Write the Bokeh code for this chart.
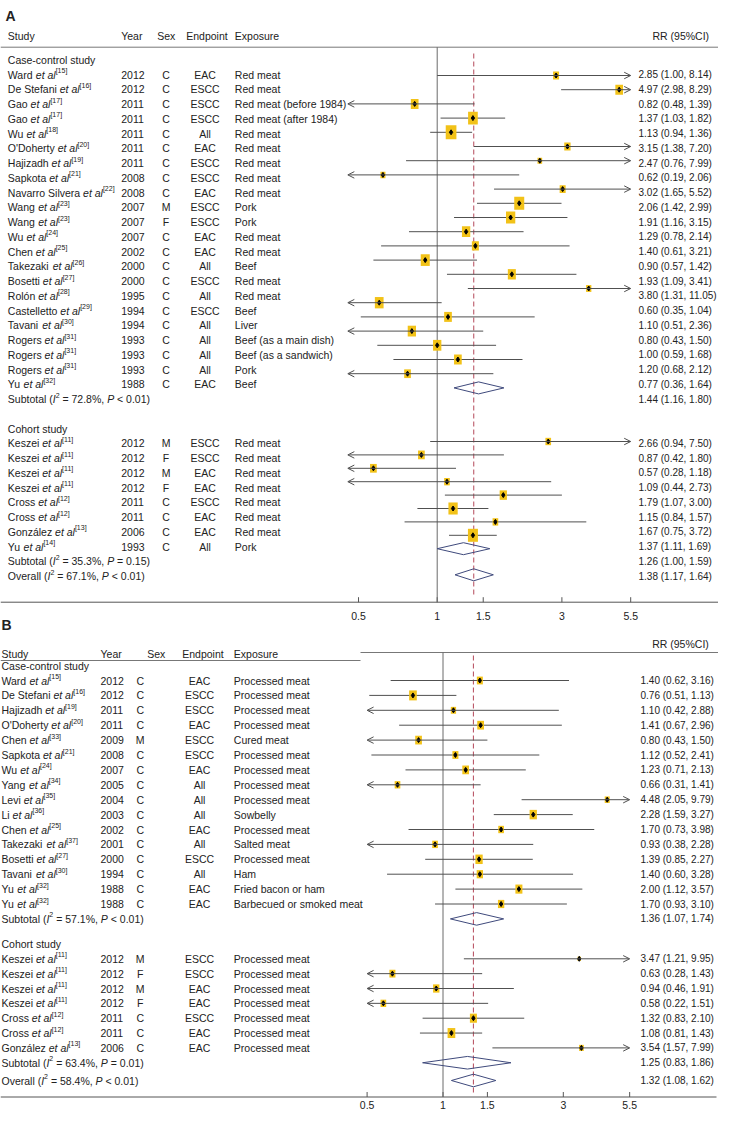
import math
from bokeh.plotting import figure
from bokeh.models import Range1d, LogScale, ColumnDataSource, Arrow, OpenHead
from bokeh.core.properties import value
from bokeh.embed import file_html
from bokeh.resources import INLINE

# ================= DATA =================
# ---- Panel A : red meat ----
A_cc_study = ["Ward", "De Stefani", "Gao", "Gao", "Wu", "O'Doherty", "Hajizadh", "Sapkota",
              "Navarro Silvera", "Wang", "Wang", "Wu", "Chen", "Takezaki", "Bosetti", "Rolón",
              "Castelletto", "Tavani", "Rogers", "Rogers", "Rogers", "Yu"]
A_cc_ref = ["15", "16", "17", "17", "18", "20", "19", "21", "22", "23", "23", "24", "25", "26",
            "27", "28", "29", "30", "31", "31", "31", "32"]
A_cc_year = [2012, 2012, 2011, 2011, 2011, 2011, 2011, 2008, 2008, 2007, 2007, 2007, 2002, 2000,
             2000, 1995, 1994, 1994, 1993, 1993, 1993, 1988]
A_cc_sex = ["C", "C", "C", "C", "C", "C", "C", "C", "C", "M", "F", "C", "C", "C", "C", "C", "C",
            "C", "C", "C", "C", "C"]
A_cc_end = ["EAC", "ESCC", "ESCC", "ESCC", "All", "EAC", "ESCC", "ESCC", "EAC", "ESCC", "ESCC",
            "EAC", "EAC", "All", "ESCC", "All", "ESCC", "All", "All", "All", "All", "EAC"]
A_cc_exp = ["Red meat", "Red meat", "Red meat (before 1984)", "Red meat (after 1984)", "Red meat",
            "Red meat", "Red meat", "Red meat", "Red meat", "Pork", "Pork", "Red meat", "Red meat",
            "Beef", "Red meat", "Red meat", "Beef", "Liver", "Beef (as a main dish)",
            "Beef (as a sandwich)", "Pork", "Beef"]
A_cc_rr = [2.85, 4.97, 0.82, 1.37, 1.13, 3.15, 2.47, 0.62, 3.02, 2.06, 1.91, 1.29, 1.40, 0.90,
           1.93, 3.80, 0.60, 1.10, 0.80, 1.00, 1.20, 0.77]
A_cc_lo = [1.00, 2.98, 0.48, 1.03, 0.94, 1.38, 0.76, 0.19, 1.65, 1.42, 1.16, 0.78, 0.61, 0.57,
           1.09, 1.31, 0.35, 0.51, 0.43, 0.59, 0.68, 0.36]
A_cc_hi = [8.14, 8.29, 1.39, 1.82, 1.36, 7.20, 7.99, 2.06, 5.52, 2.99, 3.15, 2.14, 3.21, 1.42,
           3.41, 11.05, 1.04, 2.36, 1.50, 1.68, 2.12, 1.64]
A_cc_wt = [3.6, 5.9, 5.9, 9.4, 11.4, 4.0, 2.2, 2.5, 3.6, 10.0, 8.6, 6.9, 4.9, 8.1, 6.4, 2.8, 7.6,
           5.9, 6.9, 6.9, 5.9, 4.5]
A_cc_sub = [1.44, 1.16, 1.80]
A_cc_i2, A_cc_p = "72.8%", "< 0.01"

A_co_study = ["Keszei", "Keszei", "Keszei", "Keszei", "Cross", "Cross", "González", "Yu"]
A_co_ref = ["11", "11", "11", "11", "12", "12", "13", "14"]
A_co_year = [2012, 2012, 2012, 2012, 2011, 2011, 2006, 1993]
A_co_sex = ["M", "F", "M", "F", "C", "C", "C", "C"]
A_co_end = ["ESCC", "ESCC", "EAC", "EAC", "ESCC", "EAC", "EAC", "All"]
A_co_exp = ["Red meat"] * 7 + ["Pork"]
A_co_rr = [2.66, 0.87, 0.57, 1.09, 1.79, 1.15, 1.67, 1.37]
A_co_lo = [0.94, 0.42, 0.28, 0.44, 1.07, 0.84, 0.75, 1.11]
A_co_hi = [7.50, 1.80, 1.18, 2.73, 3.00, 1.57, 3.72, 1.69]
A_co_wt = [3.2, 4.5, 4.5, 3.2, 5.3, 8.6, 3.2, 10.0]
A_co_sub = [1.26, 1.00, 1.59]
A_co_i2, A_co_p = "35.3%", "= 0.15"
A_all = [1.38, 1.17, 1.64]
A_all_i2, A_all_p = "67.1%", "< 0.01"

# ---- Panel B : processed meat ----
B_cc_study = ["Ward", "De Stefani", "Hajizadh", "O'Doherty", "Chen", "Sapkota", "Wu", "Yang",
              "Levi", "Li", "Chen", "Takezaki", "Bosetti", "Tavani", "Yu", "Yu"]
B_cc_ref = ["15", "16", "19", "20", "33", "21", "24", "34", "35", "36", "25", "37", "27", "30",
            "32", "32"]
B_cc_year = [2012, 2012, 2011, 2011, 2009, 2008, 2007, 2005, 2004, 2003, 2002, 2001, 2000, 1994,
             1988, 1988]
B_cc_sex = ["C", "C", "C", "C", "M", "C", "C", "C", "C", "C", "C", "C", "C", "C", "C", "C"]
B_cc_end = ["EAC", "ESCC", "ESCC", "EAC", "ESCC", "ESCC", "EAC", "All", "All", "All", "EAC", "All",
            "ESCC", "All", "EAC", "EAC"]
B_cc_exp = ["Processed meat", "Processed meat", "Processed meat", "Processed meat", "Cured meat",
            "Processed meat", "Processed meat", "Processed meat", "Processed meat", "Sowbelly",
            "Processed meat", "Salted meat", "Processed meat", "Ham", "Fried bacon or ham",
            "Barbecued or smoked meat"]
B_cc_rr = [1.40, 0.76, 1.10, 1.41, 0.80, 1.12, 1.23, 0.66, 4.48, 2.28, 1.70, 0.93, 1.39, 1.40,
           2.00, 1.70]
B_cc_lo = [0.62, 0.51, 0.42, 0.67, 0.43, 0.52, 0.71, 0.31, 2.05, 1.59, 0.73, 0.38, 0.85, 0.60,
           1.12, 0.93]
B_cc_hi = [3.16, 1.13, 2.88, 2.96, 1.50, 2.41, 2.13, 1.41, 9.79, 3.27, 3.98, 2.28, 2.27, 3.28,
           3.57, 3.10]
B_cc_wt = [3.6, 5.9, 2.8, 4.5, 4.5, 3.6, 4.5, 3.2, 2.5, 5.3, 3.2, 3.2, 5.3, 4.0, 4.9, 4.0]
B_cc_sub = [1.36, 1.07, 1.74]
B_cc_i2, B_cc_p = "57.1%", "< 0.01"

B_co_study = ["Keszei", "Keszei", "Keszei", "Keszei", "Cross", "Cross", "González"]
B_co_ref = ["11", "11", "11", "11", "12", "12", "13"]
B_co_year = [2012, 2012, 2012, 2012, 2011, 2011, 2006]
B_co_sex = ["M", "F", "M", "F", "C", "C", "C"]
B_co_end = ["ESCC", "ESCC", "EAC", "EAC", "ESCC", "EAC", "EAC"]
B_co_exp = ["Processed meat"] * 7
B_co_rr = [3.47, 0.63, 0.94, 0.58, 1.32, 1.08, 3.54]
B_co_lo = [1.21, 0.28, 0.46, 0.22, 0.83, 0.81, 1.57]
B_co_hi = [9.95, 1.43, 1.91, 1.51, 2.10, 1.43, 7.99]
B_co_wt = [1.1, 3.6, 4.0, 3.2, 4.9, 5.9, 2.2]
B_co_sub = [1.25, 0.83, 1.86]
B_co_i2, B_co_p = "63.4%", "= 0.01"
B_all = [1.32, 1.08, 1.62]
B_all_i2, B_all_p = "58.4%", "< 0.01"

tick_vals = [0.5, 1, 1.5, 3, 5.5]
tick_labels = ["0.5", "1", "1.5", "3", "5.5"]
headers = ["Study", "Year", "Sex", "Endpoint", "Exposure"]
rr_header = "RR (95%CI)"

# ================= LAYOUT / STYLE =================
W, H = 718, 1110
FONT = "Liberation Sans"
FS = 10.5
FS_RR = 10.0
SUP = 7.0
SUP_DY = 4.0
TXT = "#222222"
CI_COL = "#505050"
SQ_COL = "#F2C218"
DIA_COL = "#3f4a7c"
NULL_COL = "#6a6a6a"
DASH_COL = "#b5485a"
CLIP_LO, CLIP_HI = 0.5, 5.5

p = figure(width=W, height=H, x_range=Range1d(0, W), y_range=Range1d(H, 0),
           toolbar_location=None, output_backend="svg", min_border=0,
           x_axis_location=None, y_axis_location=None)
p.grid.grid_line_color = None
p.outline_line_color = None
p.background_fill_color = "white"
p.border_fill_color = "white"

# log scales for the two forest panels (pixel of RR=1, pixels per ln unit)
LOGMAP = {"A": (436.7, 113.5), "B": (442.5, 109.5)}
p.extra_x_ranges = {}
p.extra_x_scales = {}
for nm, (x1, k) in LOGMAP.items():
    p.extra_x_ranges[nm] = Range1d(math.exp(-x1 / k), math.exp((W - x1) / k))
    p.extra_x_scales[nm] = LogScale()

# ---- text width helper (Arial/Liberation metrics) ----
_AW = {}
for ch, w in zip("ABCDEFGHIJKLMNOPQRSTUVWXYZ",
                 [667, 667, 722, 722, 667, 611, 778, 722, 278, 500, 667, 556, 833, 722, 778, 667,
                  778, 722, 667, 611, 722, 667, 944, 667, 667, 611]):
    _AW[ch] = w
for ch, w in zip("abcdefghijklmnopqrstuvwxyz",
                 [556, 556, 500, 556, 556, 278, 556, 556, 222, 222, 500, 222, 833, 556, 556, 556,
                  556, 333, 500, 278, 556, 500, 722, 500, 500, 500]):
    _AW[ch] = w
for ch in "0123456789":
    _AW[ch] = 556
_AW.update({" ": 278, ".": 278, ",": 278, "(": 333, ")": 333, "-": 333, "%": 889, "=": 584,
            "<": 584, "[": 278, "]": 278, "'": 191, "ó": 556, "á": 556})


def tw(s, size):
    return sum(_AW.get(c, 556) for c in s) / 1000.0 * size


groups = {}


def add_text(x, y, txt, style="n", align="left"):
    g = groups.setdefault((style, align), {"x": [], "y": [], "text": []})
    g["x"].append(x)
    g["y"].append(y)
    g["text"].append(txt)


def add_runs(x, y, parts):
    for txt, st in parts:
        size = SUP if st == "s" else FS
        lead = len(txt) - len(txt.lstrip(" "))
        x += tw(" " * lead, size)
        body = txt.lstrip(" ")
        if st == "s":
            add_text(x, y - SUP_DY, body, "s")
        else:
            add_text(x, y, body, st)
        x += tw(body, size)


def study_label(x, y, name, ref):
    add_runs(x, y, [(name, "n"), (" et al", "i"), ("[" + ref + "]", "s")])


def stat_label(x, y, word, i2, pv):
    add_runs(x, y, [(word + " (", "n"), ("I", "i"), ("2", "s"), (" = " + i2 + ", ", "n"),
                    ("P", "i"), (" " + pv + ")", "n")])


def rr_text(v):
    return "%.2f (%.2f, %.2f)" % (v[0], v[1], v[2])


def table_rows(cols, ys, study, ref, year, sex, end, exp, rr, lo, hi):
    for i, y in enumerate(ys):
        study_label(cols["name"], y, study[i], ref[i])
        add_text(cols["year"], y, str(year[i]))
        add_text(cols["sex"], y, sex[i], "n", "center")
        add_text(cols["end"], y, end[i], "n", "center")
        add_text(cols["exp"], y, exp[i])
        add_text(cols["rr"], y, rr_text([rr[i], lo[i], hi[i]]), "r")


def forest(rname, ys, rr, lo, hi, wt, left_tip):
    plain = dict(x0=[], x1=[], y=[])
    left = dict(x0=[], x1=[], y=[])
    right = dict(x0=[], x1=[], y=[])
    for y, r, l, h in zip(ys, rr, lo, hi):
        if l < CLIP_LO:
            left["x0"].append(min(h, CLIP_HI)); left["x1"].append(left_tip); left["y"].append(y)
        elif h > CLIP_HI:
            right["x0"].append(l); right["x1"].append(CLIP_HI); right["y"].append(y)
        else:
            plain["x0"].append(l); plain["x1"].append(h); plain["y"].append(y)
    p.segment(x0="x0", y0="y", x1="x1", y1="y", source=ColumnDataSource(plain),
              x_range_name=rname, line_color=CI_COL, line_width=1)
    for d in (left, right):
        if d["y"]:
            p.add_layout(Arrow(end=OpenHead(size=6.5, line_color=CI_COL, line_width=1),
                               x_start="x0", y_start="y", x_end="x1", y_end="y",
                               source=ColumnDataSource(d), line_color=CI_COL, line_width=1,
                               x_range_name=rname))
    sizes = [math.sqrt(10.0 * w) for w in wt]
    p.rect(x=rr, y=ys, width=sizes, height=[s * 1.3 for s in sizes], width_units="screen",
           height_units="screen", fill_color=SQ_COL, line_color=None, x_range_name=rname)
    p.scatter(x=rr, y=ys, marker="diamond", size=5, color="black", x_range_name=rname)


def diamonds(rname, ys, stats, hh):
    xs, yy = [], []
    for y, (r, l, h) in zip(ys, stats):
        xs.append([l, r, h, r])
        yy.append([y, y - hh, y, y + hh])
    p.patches(xs=xs, ys=yy, fill_color=None, line_color=DIA_COL, line_width=1, x_range_name=rname)


def axis(rname, y_axis, y_lab, x_end, y_null0, y_dash0, y_dash1, overall):
    p.segment(x0=[0], y0=[y_axis], x1=[x_end], y1=[y_axis], line_color="#555555", line_width=1)
    p.segment(x0=tick_vals, y0=[y_axis - 5] * len(tick_vals), x1=tick_vals,
              y1=[y_axis] * len(tick_vals), x_range_name=rname, line_color="#555555",
              line_width=1)
    p.text(x=tick_vals, y=[y_lab] * len(tick_vals), text=tick_labels, x_range_name=rname,
           text_font=value(FONT), text_font_size="%gpx" % FS, text_align="center",
           text_baseline="middle", text_color=TXT)
    p.segment(x0=[1], y0=[y_null0], x1=[1], y1=[y_axis], x_range_name=rname,
              line_color=NULL_COL, line_width=1)
    p.segment(x0=[overall], y0=[y_dash0], x1=[overall], y1=[y_dash1], x_range_name=rname,
              line_color=DASH_COL, line_width=1, line_dash="5 3")


# ================= PANEL A =================
colsA = dict(name=7.3, year=120.7, sex=165.5, end=204.5, exp=234.3, rr=638.0)
add_text(5, 15, "A", "b")
hx = [7.3, 120.7, 156.7, 185.7, 234.3]
for x, t in zip(hx, headers):
    add_text(x, 35, t)
add_text(652, 35, rr_header)
p.segment(x0=[0], y0=[46.7], x1=[725], y1=[46.7], line_color="#777777", line_width=1)
axis("A", 601.7, 615, 723, 46.7, 53, 597, A_all[0])

A_r0, A_dy = 74.0, 14.75
add_text(7.3, A_r0 - A_dy, "Case-control study")
ys_cc = [A_r0 + i * A_dy for i in range(len(A_cc_study))]
table_rows(colsA, ys_cc, A_cc_study, A_cc_ref, A_cc_year, A_cc_sex, A_cc_end, A_cc_exp,
           A_cc_rr, A_cc_lo, A_cc_hi)
y_sub = A_r0 + 22 * A_dy
stat_label(7.3, y_sub, "Subtotal", A_cc_i2, A_cc_p)
add_text(colsA["rr"], y_sub, rr_text(A_cc_sub), "r")
add_text(7.3, A_r0 + 24 * A_dy, "Cohort study")
ys_co = [A_r0 + (25 + j) * A_dy for j in range(len(A_co_study))]
table_rows(colsA, ys_co, A_co_study, A_co_ref, A_co_year, A_co_sex, A_co_end, A_co_exp,
           A_co_rr, A_co_lo, A_co_hi)
y_sub2 = A_r0 + 33 * A_dy
stat_label(7.3, y_sub2, "Subtotal", A_co_i2, A_co_p)
add_text(colsA["rr"], y_sub2, rr_text(A_co_sub), "r")
y_all = A_r0 + 34 * A_dy
stat_label(7.3, y_all, "Overall", A_all_i2, A_all_p)
add_text(colsA["rr"], y_all, rr_text(A_all), "r")

# marks of panel A sit on a slightly tighter vertical grid than its text
mA_cc0, mA_cc_dy = 75.0, 14.2
mA_co0, mA_co_dy = 441.0, 13.4
mys_cc = [mA_cc0 + i * mA_cc_dy for i in range(len(A_cc_study))]
mys_co = [mA_co0 + j * mA_co_dy for j in range(len(A_co_study))]
forest("A", mys_cc, A_cc_rr, A_cc_lo, A_cc_hi, A_cc_wt, 0.455)
forest("A", mys_co, A_co_rr, A_co_lo, A_co_hi, A_co_wt, 0.455)
diamonds("A", [mA_cc0 + 22 * mA_cc_dy, mA_co0 + 8 * mA_co_dy, 574.3],
         [A_cc_sub, A_co_sub, A_all], 6.0)

# ================= PANEL B =================
colsB = dict(name=1.0, year=100.0, sex=139.7, end=199.0, exp=233.3, rr=640.0)
add_text(1, 624, "B", "b")
hxB = [1.0, 100.0, 146.7, 181.7, 233.3]
for x, t in zip(hxB, headers):
    add_text(x, 653, t)
add_text(651.7, 643, rr_header)
p.segment(x0=[0, 360], y0=[660, 652], x1=[360, 720], y1=[660, 652],
          line_color="#777777", line_width=1)
axis("B", 1096.5, 1104, 716, 651.7, 655, 1092, B_all[0])

B_r0, B_dy = 680.0, 14.9
add_text(1.0, 665, "Case-control study")
ysB_cc = [B_r0 + i * B_dy for i in range(len(B_cc_study))]
table_rows(colsB, ysB_cc, B_cc_study, B_cc_ref, B_cc_year, B_cc_sex, B_cc_end, B_cc_exp,
           B_cc_rr, B_cc_lo, B_cc_hi)
yB_sub = B_r0 + 16 * B_dy
stat_label(1.0, yB_sub, "Subtotal", B_cc_i2, B_cc_p)
add_text(colsB["rr"], yB_sub, rr_text(B_cc_sub), "r")
add_text(1.0, 943.3, "Cohort study")
B_c0, B_cdy = 958.3, 14.85
ysB_co = [B_c0 + j * B_cdy for j in range(len(B_co_study))]
table_rows(colsB, ysB_co, B_co_study, B_co_ref, B_co_year, B_co_sex, B_co_end, B_co_exp,
           B_co_rr, B_co_lo, B_co_hi)
yB_sub2 = B_c0 + 7 * B_cdy
stat_label(1.0, yB_sub2, "Subtotal", B_co_i2, B_co_p)
add_text(colsB["rr"], yB_sub2, rr_text(B_co_sub), "r")
yB_all = 1080.0
stat_label(1.0, yB_all, "Overall", B_all_i2, B_all_p)
add_text(colsB["rr"], yB_all, rr_text(B_all), "r")

forest("B", ysB_cc, B_cc_rr, B_cc_lo, B_cc_hi, B_cc_wt, 0.5)
forest("B", ysB_co, B_co_rr, B_co_lo, B_co_hi, B_co_wt, 0.5)
diamonds("B", [yB_sub, yB_sub2, yB_all], [B_cc_sub, B_co_sub, B_all], 6.3)

# ---- render text groups ----
for (style, align), g in groups.items():
    size = {"s": SUP, "b": 14.0, "r": FS_RR}.get(style, FS)
    fstyle = {"i": "italic", "b": "bold"}.get(style, "normal")
    p.text(x="x", y="y", text="text", source=ColumnDataSource(g), text_font=value(FONT),
           text_font_size="%gpx" % size, text_font_style=fstyle, text_align=align,
           text_baseline="middle", text_color=TXT)

open("out.html", "w").write(file_html(p, INLINE))
